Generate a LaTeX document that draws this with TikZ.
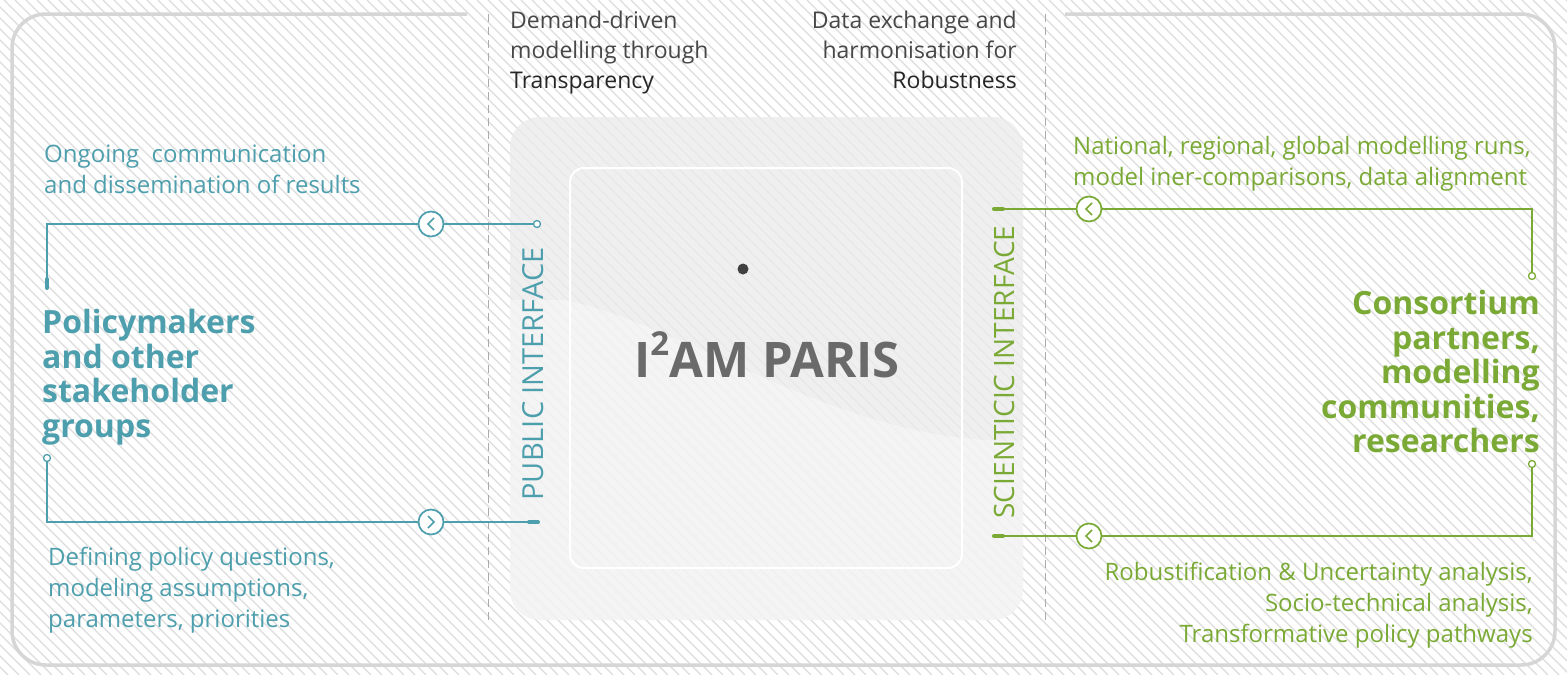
\documentclass[tikz,border=0pt]{standalone}
\usepackage{fontspec}
\setmainfont{Open Sans}
\usetikzlibrary{positioning}
\definecolor{pubteal}{HTML}{4E9FAD}
\definecolor{scigreen}{HTML}{7AAA35}
\definecolor{hatchgray}{HTML}{DCDCDC}
\definecolor{framegray}{HTML}{D6D6D6}
\definecolor{dashgray}{HTML}{ABABAB}
\definecolor{titlegray}{HTML}{6A6A6A}
\definecolor{headgray}{HTML}{474747}
\begin{document}
\begin{tikzpicture}[x=1pt,y=-1pt,
    hatch/.style={draw=hatchgray,line width=1.3pt},
    link/.style={line width=1.7pt},
    knob/.style={circle,draw,fill=white,line width=1.7pt,minimum size=25pt,inner sep=0pt},
    endring/.style={circle,draw,fill=white,line width=1.3pt,minimum size=7pt,inner sep=0pt},
    stub/.style={line width=4pt,line cap=round},
    smalltext/.style={inner sep=0pt,font=\fontsize{24}{31}\selectfont},
    bigtext/.style={inner sep=0pt,font=\fontsize{32}{34.5}\selectfont\bfseries},
    headtext/.style={inner sep=0pt,text=headgray,font=\fontsize{23}{30}\selectfont}]
    \useasboundingbox (0,0) rectangle (1567,675);

    % Background hatching
    \fill[white] (0,0) rectangle (1567,675);
    \begin{scope}
        \clip (0,0) rectangle (1567,675);
        \foreach \i in {-700,-689,...,1580}
            \draw[hatch] (\i,0) -- (\i+675,675);
    \end{scope}

    % Outer frame
    \draw[framegray,line width=3.5pt,rounded corners=34]
        (467,14) -- (12,14) -- (12,665) -- (1555,665) -- (1555,14) -- (1065,14);

    % Dashed separators
    \draw[dashgray,line width=1pt,dash pattern=on 8pt off 5pt] (488,14) -- (488,620);
    \draw[dashgray,line width=1pt,dash pattern=on 8pt off 5pt] (1045,14) -- (1045,620);

    % Central box
    \fill[gray!16,opacity=0.8,rounded corners=30] (510,117) rectangle (1023,620);
    \begin{scope}
        \clip[rounded corners=30] (510,117) rectangle (1023,620);
        \fill[white,opacity=0.35] (565,300) .. controls (700,330) and (850,450) .. (1030,440)
            -- (1030,630) -- (500,630) -- (500,300) -- cycle;
    \end{scope}
    \draw[white,line width=2pt,rounded corners=14] (570,168) rectangle (962,568);
    \fill[black!75] (743,269) circle (5.5);
    \node[text=titlegray,font=\fontsize{49}{54}\selectfont\bfseries] (core) at (767,355)
        {I\raisebox{0.45em}{\fontsize{33}{34}\selectfont 2}AM PARIS};

    % Interface labels
    \node[rotate=90,text=pubteal,font=\fontsize{29}{32}\selectfont] (pubif) at (533,374) {PUBLIC INTERFACE};
    \node[rotate=90,text=scigreen,font=\fontsize{28}{32}\selectfont] (sciif) at (1004,372) {SCIENTICIC INTERFACE};

    % Headings
    \node[headtext,anchor=north west,align=left] (demand) at (510,11)
        {Demand-driven\\modelling through\\\textcolor{black!85}{Transparency}};
    \node[headtext,anchor=north east,align=right] (exchange) at (1017,11)
        {Data exchange and\\harmonisation for\\\textcolor{black!85}{Robustness}};

    % Public side texts
    \node[smalltext,text=pubteal,anchor=north west,align=left] (ongoing) at (44,145)
        {Ongoing\ \ communication\\and dissemination of results};
    \node[bigtext,text=pubteal,anchor=north west,align=left] (policy) at (42,309)
        {Policymakers\\and other\\stakeholder\\groups};
    \node[smalltext,text=pubteal,anchor=north west,align=left] (defining) at (48,547)
        {Defining policy questions,\\modeling assumptions,\\parameters, priorities};

    % Scientific side texts
    \node[smalltext,text=scigreen,anchor=north west,align=left] (national) at (1073,136)
        {National, regional, global modelling runs,\\model iner-comparisons, data alignment};
    \node[bigtext,text=scigreen,anchor=north east,align=right] (consortium) at (1540,290)
        {Consortium\\partners,\\modelling\\communities,\\researchers};
    \node[smalltext,text=scigreen,anchor=north east,align=right] (robust) at (1533,562)
        {Robustification \& Uncertainty analysis,\\Socio-technical analysis,\\Transformative policy pathways};

    % Public interface links
    \coordinate (pta) at (47,224);
    \coordinate (ptb) at (47,288);
    \node[endring,draw=pubteal] (ptring) at (537,224) {};
    \node[knob,draw=pubteal] (pk1) at (431,224) {};
    \draw[link,pubteal] (ptring) -- (pk1) -- (pta) -- (ptb);
    \draw[stub,pubteal] (47,279) -- (ptb);
    \draw[link,pubteal] ([xshift=3pt,yshift=6pt]pk1.center) -- ([xshift=-3pt]pk1.center) -- ([xshift=3pt,yshift=-6pt]pk1.center);

    \node[endring,draw=pubteal] (pbring) at (47,458) {};
    \coordinate (pba) at (47,522);
    \coordinate (pbb) at (538,522);
    \node[knob,draw=pubteal] (pk2) at (431,522) {};
    \draw[link,pubteal] (pbring) -- (pba) -- (pk2) -- (pbb);
    \draw[stub,pubteal] (529,522) -- (pbb);
    \draw[link,pubteal] ([xshift=-3pt,yshift=6pt]pk2.center) -- ([xshift=3pt]pk2.center) -- ([xshift=-3pt,yshift=-6pt]pk2.center);

    % Scientific interface links
    \coordinate (sta) at (994,209);
    \coordinate (stb) at (1532,209);
    \node[endring,draw=scigreen] (string) at (1532,276) {};
    \node[knob,draw=scigreen] (sk1) at (1089,209) {};
    \draw[link,scigreen] (sta) -- (sk1) -- (stb) -- (string);
    \draw[stub,scigreen] (sta) -- (1003,209);
    \draw[link,scigreen] ([xshift=3pt,yshift=6pt]sk1.center) -- ([xshift=-3pt]sk1.center) -- ([xshift=3pt,yshift=-6pt]sk1.center);

    \node[endring,draw=scigreen] (sbring) at (1532,464) {};
    \coordinate (sba) at (1532,536);
    \coordinate (sbb) at (994,536);
    \node[knob,draw=scigreen] (sk2) at (1089,536) {};
    \draw[link,scigreen] (sbring) -- (sba) -- (sk2) -- (sbb);
    \draw[stub,scigreen] (sbb) -- (1003,536);
    \draw[link,scigreen] ([xshift=3pt,yshift=6pt]sk2.center) -- ([xshift=-3pt]sk2.center) -- ([xshift=3pt,yshift=-6pt]sk2.center);
\end{tikzpicture}
\end{document}
